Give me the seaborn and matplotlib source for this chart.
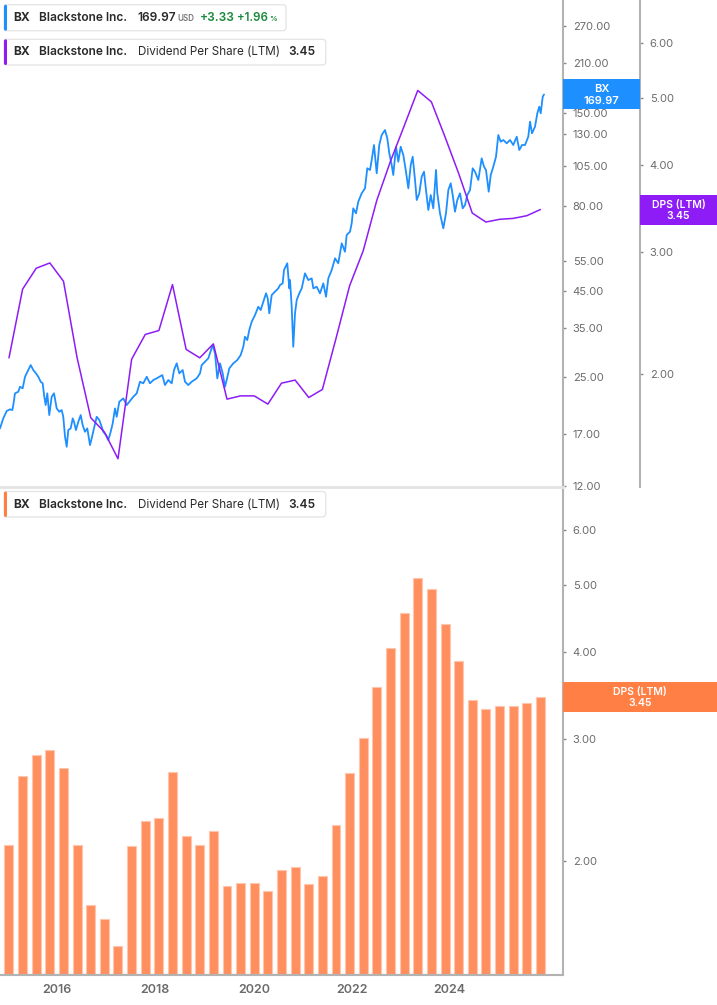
import matplotlib.pyplot as plt
import matplotlib.patches as mpatches
from matplotlib.transforms import IdentityTransform
from matplotlib.ticker import FixedLocator, NullLocator, FormatStrFormatter
import pandas as pd
import seaborn as sns

# Dividend per share (LTM), one value per quarter 2015Q1 .. 2024Q4
quarters = [f'{y}Q{q}' for y in range(2015, 2025) for q in range(1, 5)]
dps = [2.11, 2.65, 2.84, 2.89, 2.72, 2.11, 1.73, 1.65, 1.51, 2.10,
       2.28, 2.31, 2.69, 2.17, 2.11, 2.21, 1.84, 1.86, 1.86, 1.81,
       1.94, 1.96, 1.85, 1.90, 2.25, 2.68, 3.01, 3.56, 4.05, 4.55,
       5.12, 4.93, 4.39, 3.89, 3.41, 3.31, 3.34, 3.35, 3.38, 3.45]

# BX share price, dates as decimal years
price_t = [2014.835, 2014.895, 2014.958, 2015.018, 2015.061, 2015.079, 2015.110, 2015.171, 2015.202, 2015.251,
           2015.294, 2015.354, 2015.398, 2015.446, 2015.495, 2015.538, 2015.582, 2015.618, 2015.648, 2015.673,
           2015.703, 2015.739, 2015.783, 2015.826, 2015.875, 2015.923, 2015.967, 2015.996, 2016.028, 2016.059,
           2016.088, 2016.132, 2016.169, 2016.193, 2016.229, 2016.272, 2016.316, 2016.352, 2016.394, 2016.437,
           2016.486, 2016.517, 2016.560, 2016.609, 2016.657, 2016.701, 2016.730, 2016.780, 2016.822, 2016.866,
           2016.903, 2016.945, 2016.976, 2017.024, 2017.097, 2017.160, 2017.233, 2017.281, 2017.343, 2017.404,
           2017.464, 2017.527, 2017.587, 2017.648, 2017.710, 2017.813, 2017.862, 2017.923, 2017.985, 2018.028,
           2018.077, 2018.125, 2018.187, 2018.229, 2018.290, 2018.352, 2018.444, 2018.505, 2018.536, 2018.596,
           2018.657, 2018.738, 2018.780, 2018.822, 2018.872, 2018.921, 2018.963, 2018.994, 2019.042, 2019.116,
           2019.189, 2019.251, 2019.299, 2019.330, 2019.372, 2019.409, 2019.453, 2019.514, 2019.574, 2019.618,
           2019.666, 2019.716, 2019.747, 2019.776, 2019.820, 2019.881, 2019.941, 2019.972, 2020.022, 2020.046,
           2020.106, 2020.143, 2020.156, 2020.187, 2020.216, 2020.248, 2020.279, 2020.327, 2020.371, 2020.431,
           2020.492, 2020.554, 2020.584, 2020.646, 2020.706, 2020.767, 2020.817, 2020.859, 2020.921, 2020.982,
           2021.042, 2021.105, 2021.165, 2021.196, 2021.257, 2021.288, 2021.317, 2021.367, 2021.409, 2021.471,
           2021.532, 2021.574, 2021.624, 2021.655, 2021.697, 2021.747, 2021.794, 2021.838, 2021.899, 2021.941,
           2021.978, 2022.022, 2022.051, 2022.101, 2022.143, 2022.187, 2022.235, 2022.284, 2022.327, 2022.371,
           2022.407, 2022.450, 2022.481, 2022.528, 2022.572, 2022.615, 2022.651, 2022.694, 2022.738, 2022.785,
           2022.835, 2022.859, 2022.908, 2022.969, 2023.018, 2023.061, 2023.105, 2023.141, 2023.183, 2023.226,
           2023.275, 2023.325, 2023.367, 2023.409, 2023.459, 2023.508, 2023.550, 2023.611, 2023.673, 2023.716,
           2023.752, 2023.802, 2023.839, 2023.886, 2023.936, 2023.978, 2024.022, 2024.070, 2024.132, 2024.193,
           2024.253, 2024.316, 2024.363, 2024.413, 2024.468, 2024.528, 2024.560, 2024.596, 2024.651, 2024.694,
           2024.730, 2024.756, 2024.793, 2024.817]
price = [17.70, 18.94, 19.91, 20.14, 20.04, 20.73, 22.44, 22.69, 23.47, 23.22,
         25.11, 26.28, 27.18, 26.28, 25.70, 25.11, 24.28, 24.02, 21.93, 20.73,
         22.44, 19.37, 21.93, 22.44, 20.27, 19.81, 20.04, 19.15, 16.73, 15.63,
         17.50, 17.70, 18.94, 18.51, 17.50, 18.51, 19.37, 18.10, 17.30, 17.70,
         15.81, 16.54, 17.70, 19.15, 18.73, 17.90, 17.30, 16.92, 16.35, 17.30,
         18.31, 20.27, 19.15, 21.20, 21.69, 20.73, 21.45, 21.93, 22.44, 24.28,
         24.02, 25.11, 24.02, 24.56, 24.84, 25.40, 23.74, 24.56, 24.02, 26.28,
         27.50, 25.70, 26.28, 24.28, 23.74, 24.28, 24.84, 25.70, 27.18, 27.80,
         28.45, 31.13, 29.43, 24.84, 27.50, 25.70, 23.47, 24.56, 26.58, 27.50,
         28.12, 29.09, 30.77, 32.93, 32.20, 34.46, 36.45, 38.15, 40.35, 39.46,
         41.74, 44.19, 42.72, 38.59, 43.68, 44.67, 45.71, 46.74, 47.28, 51.74,
         54.15, 45.71, 48.35, 40.35, 30.77, 38.59, 42.23, 44.19, 45.71, 50.60,
         48.35, 48.91, 45.71, 46.20, 44.19, 47.28, 43.18, 48.91, 51.74, 56.02,
         54.15, 62.01, 58.57, 65.59, 67.08, 71.00, 78.60, 75.98, 82.19, 87.00,
         90.00, 103.07, 101.89, 109.02, 120.68, 99.63, 120.68, 129.14, 133.60, 126.30,
         114.08, 105.40, 98.48, 119.29, 107.77, 119.29, 112.78, 100.72, 90.00, 105.40,
         111.48, 95.19, 83.14, 87.00, 97.35, 100.72, 88.98, 77.70, 86.01, 78.60,
         101.89, 87.00, 75.98, 68.64, 75.98, 88.98, 93.10, 86.01, 76.81, 83.14,
         87.00, 78.60, 80.38, 86.01, 88.98, 103.07, 100.72, 95.19, 110.28, 104.18,
         101.89, 87.96, 98.48, 104.18, 111.48, 129.14, 123.41, 124.84, 122.09, 124.84,
         120.68, 127.67, 116.68, 120.68, 120.68, 127.67, 141.33, 130.63, 136.62, 149.60,
         156.45, 149.60, 167.41, 169.97]

price_ticks = [12, 17, 25, 35, 45, 55, 80, 105, 130, 150, 210, 270]
dps_ticks = [2, 3, 4, 5, 6]
year_labels = ['2016', '2018', '2020', '2022', '2024']

# layout (pixels of a 717 x 1005 canvas)
W, H = 717, 1005
year_tick_pos = [2015.886, 2017.684, 2019.495, 2021.294, 2023.079]
XMIN, XMAX = 2014.835, 2025.165

BLUE = '#1e8fff'
PURPLE = '#8d1cf6'
ORANGE = '#ff8f5e'
ORANGE_TAG = '#ff7f45'
GRID = '#b3b3b3'
TXT = '#6b6b6b'
DARK = '#2a2a2a'
GREEN = '#1b8a3c'

sns.set_style('white')
plt.rcParams['font.family'] = ['Inter', 'DejaVu Sans']

periods = pd.PeriodIndex(quarters, freq='Q')
bar_t = list(periods.year + (periods.quarter - 1) / 4)

fig = plt.figure(figsize=(W / 100, H / 100), dpi=100)
ax = fig.add_axes([0, 1 - 487 / H, 563 / W, 487 / H])
bx = fig.add_axes([0, 1 - 974.5 / H, 563 / W, (974.5 - 490) / H])


def style_log_axis(a, ticks, lim):
    a.set_yscale('log')
    a.set_ylim(*lim)
    a.yaxis.set_major_locator(FixedLocator(ticks))
    a.yaxis.set_minor_locator(NullLocator())
    a.yaxis.set_major_formatter(FormatStrFormatter('%.2f'))
    a.tick_params(axis='y', which='major', length=2.5, width=1, color='#888888',
                  labelcolor=TXT, labelsize=8, pad=4.5, right=True, left=False,
                  labelright=True, labelleft=False)
    a.set_ylabel('')


# ---- top panel: price + DPS line
sns.lineplot(x=price_t, y=price, ax=ax, color=BLUE, linewidth=1.3)
ax2 = ax.twinx()
sns.lineplot(x=bar_t, y=dps, ax=ax2, color=PURPLE, linewidth=1.1)

style_log_axis(ax, price_ticks, (11.9, 322.3))
style_log_axis(ax2, dps_ticks, (1.375, 6.911))
ax.set_xlim(XMIN, XMAX)
ax.set_xticks([])
ax.set_xlabel('')
for s in ['left', 'top']:
    ax.spines[s].set_visible(False)
ax.spines['right'].set_color(GRID)
ax.spines['right'].set_linewidth(1.5)
ax.spines['bottom'].set_color('#e3e3e3')
ax.spines['bottom'].set_linewidth(2)
for s in ['left', 'top', 'bottom']:
    ax2.spines[s].set_visible(False)
ax2.spines['right'].set_position(('axes', 640 / 563))
ax2.spines['right'].set_color(GRID)
ax2.spines['right'].set_linewidth(1.5)

# ---- bottom panel: DPS bars
df_bar = pd.DataFrame({'t': bar_t, 'dps': dps})
sns.barplot(data=df_bar, x='t', y='dps', native_scale=True, width=0.66,
            color=ORANGE, saturation=1, edgecolor='#ffc6ad', linewidth=0.8, ax=bx)
style_log_axis(bx, dps_ticks, (1.372, 6.851))
bx.set_xlim(XMIN, XMAX)
bx.set_xticks(year_tick_pos)
bx.set_xticklabels(year_labels, fontweight='semibold')
bx.tick_params(axis='x', length=3, width=1, color='#999999', labelcolor=TXT,
               labelsize=9, pad=4)
bx.set_xlabel('')
for s in ['left', 'top']:
    bx.spines[s].set_visible(False)
for s in ['right', 'bottom']:
    bx.spines[s].set_color(GRID)
    bx.spines[s].set_linewidth(1.5)

# ---- overlays in pixel coordinates
px = IdentityTransform()


def box(x0, y0, x1, y1, **kw):
    fig.add_artist(mpatches.Rectangle((x0, H - y1), x1 - x0, y1 - y0, transform=px, **kw))


def legend_box(y0, y1, x1, color):
    fig.add_artist(mpatches.FancyBboxPatch((4, H - y1), x1 - 4, y1 - y0,
                                           boxstyle='round,pad=0,rounding_size=3',
                                           transform=px, facecolor='white',
                                           edgecolor='#e6e6e6', linewidth=1))
    fig.add_artist(mpatches.FancyBboxPatch((4, H - y1), 3, y1 - y0,
                                           boxstyle='round,pad=0,rounding_size=1.5',
                                           transform=px, facecolor=color, edgecolor='none'))


def t(x, y, s, **kw):
    kw.setdefault('va', 'center')
    kw.setdefault('fontsize', 8.6)
    kw.setdefault('color', DARK)
    fig.text(x, H - y, s, transform=px, **kw)


legend_box(4.7, 30.7, 286, BLUE)
t(13.3, 17.5, 'BX', fontweight='bold')
t(39.3, 17.5, 'Blackstone Inc.', fontweight='semibold')
t(137.7, 17.5, '169.97', fontweight='semibold')
t(177, 18.5, 'USD', fontsize=5.8, color='#777777', fontweight='semibold')
t(200, 17.5, '+3.33', color=GREEN, fontweight='semibold')
t(237.3, 17.5, '+1.96', color=GREEN, fontweight='semibold', fontsize=8.3)
t(269.5, 19, '%', color=GREEN, fontsize=5.5, fontweight='semibold')

legend_box(39.3, 65, 325.7, PURPLE)
t(13.3, 52, 'BX', fontweight='bold')
t(39.3, 52, 'Blackstone Inc.', fontweight='semibold')
t(137.7, 52, 'Dividend Per Share (LTM)', fontsize=8.4)
t(288.7, 52, '3.45', fontweight='semibold')

legend_box(491.5, 517, 325.7, ORANGE_TAG)
t(13.3, 504.5, 'BX', fontweight='bold')
t(39.3, 504.5, 'Blackstone Inc.', fontweight='semibold')
t(137.7, 504.5, 'Dividend Per Share (LTM)', fontsize=8.4)
t(288.7, 504.5, '3.45', fontweight='semibold')

# value tags on the axes
box(563, 79.3, 640, 109.3, facecolor=BLUE, edgecolor='none')
t(601.5, 89, 'BX', color='white', fontsize=8, ha='center', fontweight='semibold')
t(601.5, 101, '169.97', color='white', fontsize=8, ha='center', fontweight='semibold')

box(640, 195, 717, 225, facecolor=PURPLE, edgecolor='none')
t(678.5, 204.5, 'DPS (LTM)', color='white', fontsize=7.5, ha='center', fontweight='semibold')
t(678.5, 215.5, '3.45', color='white', fontsize=7.5, ha='center', fontweight='semibold')

box(563, 682.3, 717, 712.3, facecolor=ORANGE_TAG, edgecolor='none')
t(640, 692, 'DPS (LTM)', color='white', fontsize=7.5, ha='center', fontweight='semibold')
t(640, 703, '3.45', color='white', fontsize=7.5, ha='center', fontweight='semibold')

fig.savefig('out.png', dpi=100)
